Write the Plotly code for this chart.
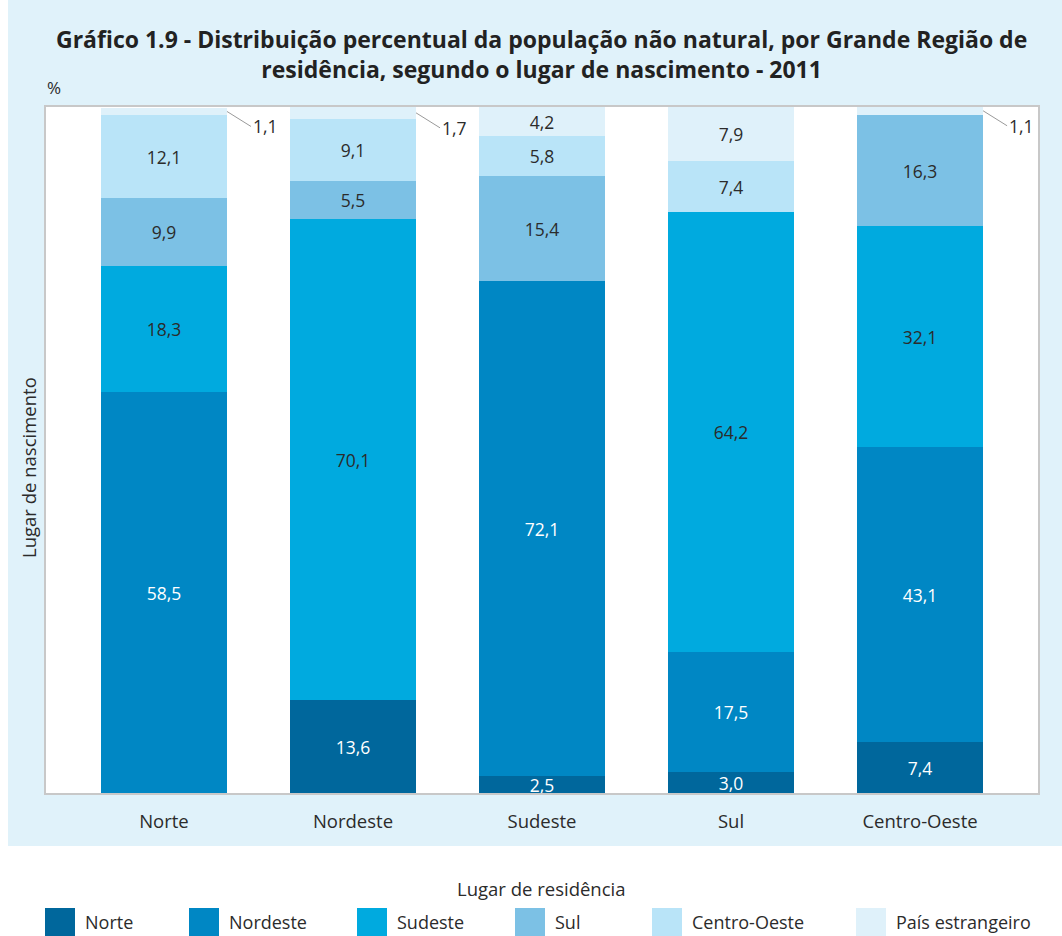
import plotly.graph_objects as go

# Região de residência (eixo x)
residencia = ["Norte", "Nordeste", "Sudeste", "Sul", "Centro-Oeste"]

# Lugar de nascimento (séries empilhadas), em %
nasc_norte = [0, 13.6, 2.5, 3.0, 7.4]
nasc_nordeste = [58.5, 0, 72.1, 17.5, 43.1]
nasc_sudeste = [18.3, 70.1, 0, 64.2, 32.1]
nasc_sul = [9.9, 5.5, 15.4, 0, 16.3]
nasc_centro_oeste = [12.1, 9.1, 5.8, 7.4, 0]
nasc_estrangeiro = [1.1, 1.7, 4.2, 7.9, 1.1]

series = [
    ("Norte", nasc_norte, "#00679c", "white"),
    ("Nordeste", nasc_nordeste, "#0087c4", "white"),
    ("Sudeste", nasc_sudeste, "#00aadf", "#2b2b2b"),
    ("Sul", nasc_sul, "#7cc1e5", "#2b2b2b"),
    ("Centro-Oeste", nasc_centro_oeste, "#b9e4f8", "#2b2b2b"),
    ("País estrangeiro", nasc_estrangeiro, "#dff1fa", "#2b2b2b"),
]

PANEL = "#e0f2fa"
TXT = "#2b2b2b"
FONT = "Open Sans"

def fmt(v):
    return f"{v:.1f}".replace(".", ",")

W, H = 1062, 936
L, R, T, B = 46, 24, 107, 143
pw, ph = W - L - R, H - T - B

def px(x):
    return (x - L) / pw

def py(y):
    return (H - B - y) / ph

fig = go.Figure()
for name, vals, color, tcol in series:
    # small segments get an external label with a leader line
    texts = [fmt(v) if v >= 2 else "" for v in vals]
    fig.add_trace(go.Bar(
        name=name, x=residencia, y=vals, marker=dict(color=color, line=dict(width=0)),
        width=0.667, text=texts, textposition="inside", insidetextanchor="middle",
        textangle=0, textfont=dict(family=FONT, size=17.5, color=tcol),
        hoverinfo="skip",
    ))

annotations = []
# leader-line labels for small top segments
totals = [sum(s[1][i] for s in series) for i in range(len(residencia))]
for i, cat in enumerate(residencia):
    v = nasc_estrangeiro[i]
    if 0 < v < 2:
        annotations.append(dict(
            x=i + 0.3335, y=totals[i] - v / 2, xref="x", yref="y",
            text=fmt(v), showarrow=True, arrowhead=0, arrowwidth=1, arrowcolor="#9a9a9a",
            ax=24, ay=15, xanchor="left", yanchor="middle",
            font=dict(family=FONT, size=17.5, color=TXT),
        ))

annotations += [
    dict(text="<b>Gráfico 1.9 - Distribuição percentual da população não natural, por Grande Região de<br>"
              "residência, segundo o lugar de nascimento - 2011</b>",
         xref="paper", yref="paper", x=px(541), y=py(54), xanchor="center", yanchor="middle",
         showarrow=False, align="center", font=dict(family=FONT, size=23, color="#222222")),
    dict(text="%", xref="paper", yref="paper", x=px(45), y=py(88), xanchor="left", yanchor="middle",
         showarrow=False, font=dict(family=FONT, size=17, color=TXT)),
    dict(text="Lugar de nascimento", xref="paper", yref="paper", x=px(28), y=py(468),
         xanchor="center", yanchor="middle", textangle=-90,
         showarrow=False, font=dict(family=FONT, size=18.5, color=TXT)),
    dict(text="Lugar de residência", xref="paper", yref="paper", x=px(541), y=py(888),
         xanchor="center", yanchor="middle",
         showarrow=False, font=dict(family=FONT, size=18.5, color=TXT)),
]

shapes = [
    # white margins outside the coloured panel
    dict(type="rect", xref="paper", yref="paper", x0=px(-5), x1=px(W + 5), y0=py(846), y1=py(H + 5),
         fillcolor="white", line=dict(width=0), layer="below"),
    dict(type="rect", xref="paper", yref="paper", x0=px(-5), x1=px(8), y0=py(846), y1=py(-5),
         fillcolor="white", line=dict(width=0), layer="below"),
]

# legend drawn as swatches + labels
legend_x = [45, 189, 357, 515, 652, 856]
for (name, _, color, _), lx in zip(series, legend_x):
    shapes.append(dict(type="rect", xref="paper", yref="paper",
                       x0=px(lx), x1=px(lx + 30), y0=py(936), y1=py(908),
                       fillcolor=color, line=dict(width=0)))
    annotations.append(dict(text=name, xref="paper", yref="paper", x=px(lx + 38), y=py(922),
                            xanchor="left", yanchor="middle", showarrow=False,
                            font=dict(family=FONT, size=18, color=TXT)))

fig.update_layout(
    width=W, height=H, barmode="stack", bargap=0,
    margin=dict(l=L, r=R, t=T, b=B, pad=0),
    paper_bgcolor=PANEL, plot_bgcolor="white",
    showlegend=False,
    uniformtext=dict(minsize=17.5, mode="show"),
    font=dict(family=FONT, color=TXT),
    xaxis=dict(type="category", range=[-0.624, 4.624], showline=True, mirror=True,
               linecolor="#c8c8c8", linewidth=1.5, ticks="", showgrid=False,
               tickfont=dict(family=FONT, size=18.5, color=TXT), ticklabelstandoff=11),
    yaxis=dict(range=[0, 100], showline=True, mirror=True, linecolor="#c8c8c8", linewidth=1.5,
               showticklabels=False, ticks="", showgrid=False, zeroline=False, fixedrange=True),
    annotations=annotations, shapes=shapes,
)

fig.write_html("out.html")
